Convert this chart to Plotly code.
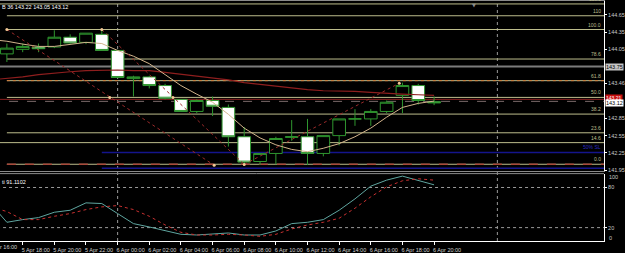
import plotly.graph_objects as go

# ---------------- data ----------------
candle_idx = list(range(28))
opens  = [143.97,144.05,144.09,144.09,144.26,144.17,144.31,144.03,143.54,143.57,143.42,143.18,142.97,143.16,143.04,142.53,142.10,142.24,142.52,142.53,142.24,142.55,142.84,142.84,142.97,143.25,143.42,143.14]
highs  = [144.15,144.15,144.15,144.38,144.31,144.33,144.39,144.04,143.59,143.59,143.45,143.18,143.18,143.23,143.09,142.70,142.24,142.53,142.82,142.84,142.55,142.84,143.01,143.01,143.16,143.47,143.45,143.23]
lows   = [143.83,144.00,144.00,144.07,144.15,144.14,144.03,143.55,143.23,143.37,143.18,142.96,142.94,142.89,142.36,142.05,142.04,142.05,142.46,142.04,142.19,142.38,142.72,142.72,142.94,142.94,143.09,143.08]
closes = [144.07,144.10,144.06,144.26,144.16,144.33,144.03,143.56,143.57,143.42,143.20,142.97,143.16,143.06,142.53,142.09,142.24,142.50,142.53,142.24,142.55,142.84,142.84,142.97,143.13,143.42,143.16,143.12]

line_idx = list(range(-1, 28))
ma_fast = [144.22,144.19,144.14,144.10,144.10,144.14,144.17,144.15,144.03,143.93,143.80,143.61,143.42,143.27,143.13,142.92,142.68,142.51,142.39,142.31,142.27,142.33,142.41,142.53,142.68,142.87,143.04,143.11,143.15]
ma_slow = [143.52,143.54,143.57,143.61,143.64,143.66,143.68,143.69,143.69,143.68,143.68,143.65,143.62,143.59,143.56,143.52,143.47,143.44,143.40,143.37,143.35,143.33,143.33,143.32,143.30,143.28,143.27,143.26,143.25]
stoch_main   = [55,28,32,35,43,46,57,56,41,26,21,16,10,9,10,12,9,9,15,26,28,32,46,63,82,91,97,91,84]
stoch_signal = [51,44,32,32,37,41,47,51,53,47,37,24,13,9,9,10,9,7,10,18,24,28,34,49,66,81,90,93,91]

tick_idx  = [1,3,5,7,9,11,13,15,17,19,21,23,25,27]
tick_text = ["5 Apr 18:00","5 Apr 20:00","5 Apr 22:00","6 Apr 00:00","6 Apr 02:00","6 Apr 04:00",
             "6 Apr 06:00","6 Apr 08:00","6 Apr 10:00","6 Apr 12:00","6 Apr 14:00","6 Apr 16:00",
             "6 Apr 18:00","6 Apr 20:00"]
price_ticks = [144.65,144.35,144.05,143.46,142.85,142.55,142.25,141.95]
price_text  = ["144.65","144.35","144.05","143.46","142.85","142.55","142.25","141.95"]

fib_prices = [144.838,144.633,144.394,143.881,143.505,143.214,142.924,142.599,142.428,142.052]
fib_labels = ["119.1","110","100.0","78.6","61.8","50.0","38.2","23.6","14.6","0.0"]
fib_start  = [-1,0,0,0,0,0,0,0,-1,0]

blue_levels = [142.257,141.983]
hline_gray = 143.75
hline_red = 143.18
red_label = 143.21
bid = 143.12

trend_a_x = [0,13.1];   trend_a_y = [144.394,142.035]
trend_b_x = [6,15];     trend_b_y = [144.394,142.05]
trend_c_x = [15,24.8];  trend_c_y = [142.05,143.46]
dot_x = [0,6,6.5,10.5,13.1,15,24.8]
dot_y = [144.394,144.394,143.214,143.214,142.035,142.05,143.46]

sep_idx = [7,31]
marker_idx = 29.55

# ---------------- figure ----------------
FONT = "Liberation Sans"
GREEN = "#2f962f"
KHAKI = "#bdbd8c"

fig = go.Figure()
fig.add_trace(go.Candlestick(
    x=candle_idx, open=opens, high=highs, low=lows, close=closes,
    increasing=dict(line=dict(color=GREEN, width=1), fillcolor="black"),
    decreasing=dict(line=dict(color=GREEN, width=1), fillcolor="white"),
    whiskerwidth=0, xaxis="x", yaxis="y", hoverinfo="skip"))
fig.add_trace(go.Scatter(x=line_idx, y=ma_slow, mode="lines", line=dict(color="#8e1e1e", width=1.2),
                         xaxis="x", yaxis="y", hoverinfo="skip"))
fig.add_trace(go.Scatter(x=line_idx, y=ma_fast, mode="lines", line=dict(color="#d2b48c", width=1),
                         xaxis="x", yaxis="y", hoverinfo="skip"))
for tx, ty in [(trend_a_x, trend_a_y), (trend_b_x, trend_b_y), (trend_c_x, trend_c_y)]:
    fig.add_trace(go.Scatter(x=tx, y=ty, mode="lines", line=dict(color="#9a2a2a", width=1, dash="dot"),
                             xaxis="x", yaxis="y", hoverinfo="skip"))
fig.add_trace(go.Scatter(x=dot_x, y=dot_y, mode="markers", marker=dict(color="#f3c896", size=3),
                         xaxis="x", yaxis="y", hoverinfo="skip"))
fig.add_trace(go.Scatter(x=line_idx, y=stoch_main, mode="lines", line=dict(color="#5fa6a0", width=1),
                         xaxis="x2", yaxis="y2", hoverinfo="skip"))
fig.add_trace(go.Scatter(x=line_idx, y=stoch_signal, mode="lines", line=dict(color="#c83030", width=1, dash="dot"),
                         xaxis="x2", yaxis="y2", hoverinfo="skip"))

shapes = []
for p, s in zip(fib_prices, fib_start):
    shapes.append(dict(type="line", xref="x", yref="y", x0=s, x1=40, y0=p, y1=p,
                       line=dict(color=KHAKI, width=1), layer="below"))
# dashed overlays on 61.8 and 0.0
shapes.append(dict(type="line", xref="x", yref="y", x0=0, x1=40, y0=fib_prices[4], y1=fib_prices[4],
                   line=dict(color="#d07a3a", width=1, dash="dot"), layer="below"))
shapes.append(dict(type="line", xref="x", yref="y", x0=0, x1=40, y0=fib_prices[9], y1=fib_prices[9],
                   line=dict(color="#a8483a", width=1.5, dash="dash"), layer="below"))
shapes.append(dict(type="line", xref="x", yref="y", x0=-1, x1=40, y0=hline_gray, y1=hline_gray,
                   line=dict(color="#7c7c7c", width=2), layer="below"))
shapes.append(dict(type="line", xref="x", yref="y", x0=-1, x1=40, y0=hline_red, y1=hline_red,
                   line=dict(color="#8a2020", width=1), layer="below"))
shapes.append(dict(type="line", xref="x", yref="y", x0=-1, x1=40, y0=143.145, y1=143.145,
                   line=dict(color="#7a6a6a", width=1, dash="dash"), layer="below"))
for b in blue_levels:
    shapes.append(dict(type="line", xref="x", yref="y", x0=6, x1=40, y0=b, y1=b,
                       line=dict(color="#14148c", width=1.5), layer="below"))
for s in sep_idx:
    shapes.append(dict(type="line", xref="x", yref="paper", x0=s, x1=s, y0=0, y1=1,
                       line=dict(color="#9a9a9a", width=1, dash="dot"), layer="below"))
for v in [20, 80]:
    shapes.append(dict(type="line", xref="x2", yref="y2", x0=-1, x1=40, y0=v, y1=v,
                       line=dict(color="#9a9a9a", width=1, dash="dot"), layer="below"))
# separator between panels
shapes.append(dict(type="line", xref="paper", yref="paper", x0=0, x1=1,
                   y0=(245-176.5)/244, y1=(245-176.5)/244, line=dict(color="#8a8a8a", width=1)))

ann = []
fs = 5.5
for p, lab in zip(fib_prices, fib_labels):
    ann.append(dict(xref="paper", x=1, xanchor="right", xshift=-1, yref="y", y=p, yanchor="bottom",
                    text=lab, showarrow=False, font=dict(family=FONT, size=5, color=KHAKI)))
ann.append(dict(xref="paper", x=1, xanchor="right", xshift=-1, yref="y", y=blue_levels[0], yanchor="bottom",
                text="50% SL", showarrow=False, font=dict(family=FONT, size=5, color="#2a2ac0")))
ann.append(dict(xref="paper", x=1, xanchor="left", xshift=1, yref="y", y=hline_gray,
                text="143.75", showarrow=False, bgcolor="#c4c4c4", borderpad=0,
                font=dict(family=FONT, size=fs, color="black")))
ann.append(dict(xref="paper", x=1, xanchor="left", xshift=1, yref="y", y=red_label,
                text="143.21", showarrow=False, bgcolor="#c81010", borderpad=0,
                font=dict(family=FONT, size=5, color="white")))
ann.append(dict(xref="paper", x=1, xanchor="left", xshift=1, yref="y", y=bid,
                text="143.12", showarrow=False, bgcolor="white", borderpad=0,
                font=dict(family=FONT, size=fs, color="black")))
ann.append(dict(xref="paper", x=1, xanchor="left", xshift=3, yref="y2", y=95,
                text="100", showarrow=False, font=dict(family=FONT, size=fs, color="#c8c8c8")))
ann.append(dict(xref="paper", x=1, xanchor="left", xshift=3, yref="y2", y=5,
                text="0", showarrow=False, font=dict(family=FONT, size=fs, color="#c8c8c8")))
ann.append(dict(xref="paper", x=0, xanchor="left", yref="paper", y=1, yanchor="top", yshift=-1,
                text="B 36 143.22 143.05 143.12", showarrow=False,
                font=dict(family=FONT, size=fs, color="white")))
ann.append(dict(xref="paper", x=0, xanchor="left", yref="y2", y=88, yanchor="middle",
                text="ti 91.1102", showarrow=False, font=dict(family=FONT, size=fs, color="white")))
ann.append(dict(xref="paper", x=0, xanchor="left", xshift=-13, yref="paper", y=0, yanchor="top", yshift=-1,
                text="5 Apr 16:00", showarrow=False, font=dict(family=FONT, size=fs, color="#d0d0d0")))
ann.append(dict(xref="x", x=marker_idx, yref="paper", y=1, yanchor="top", yshift=1,
                text="▼", showarrow=False, font=dict(family="DejaVu Sans", size=5, color="#8c8c8c")))

x_range = [-0.4346, 37.739]
fig.update_layout(
    width=625, height=253,
    margin=dict(l=0, r=19, t=1, b=8),
    paper_bgcolor="black", plot_bgcolor="black",
    showlegend=False, boxgap=0.2, boxgroupgap=0,
    shapes=shapes, annotations=ann,
    xaxis=dict(domain=[0, 1], range=x_range, anchor="y", showgrid=False, zeroline=False,
               showticklabels=False, showline=True, mirror=True, linecolor="#8a8a8a", linewidth=1,
               rangeslider=dict(visible=False), fixedrange=True),
    yaxis=dict(domain=[(245-174)/244, 1], range=[141.9321, 144.8893], side="right",
               tickvals=price_ticks, ticktext=price_text, showgrid=False, zeroline=False,
               showline=True, linecolor="white", linewidth=1, ticks="outside", ticklen=2,
               tickcolor="white", tickfont=dict(family=FONT, size=fs, color="#c8c8c8")),
    xaxis2=dict(domain=[0, 1], matches="x", anchor="y2", showgrid=False, zeroline=False,
                tickvals=tick_idx, ticktext=tick_text, ticks="outside", ticklen=3, tickcolor="white",
                showline=True, linecolor="white", linewidth=1, ticklabelshift=13,
                tickfont=dict(family=FONT, size=fs, color="#d0d0d0")),
    yaxis2=dict(domain=[0, (245-177)/244], range=[0, 100], side="right", tickvals=[20, 80],
                showgrid=False, zeroline=False, showline=True, linecolor="white", linewidth=1,
                ticks="outside", ticklen=2, tickcolor="white",
                tickfont=dict(family=FONT, size=fs, color="#c8c8c8")),
)
fig.write_html("out.html")
